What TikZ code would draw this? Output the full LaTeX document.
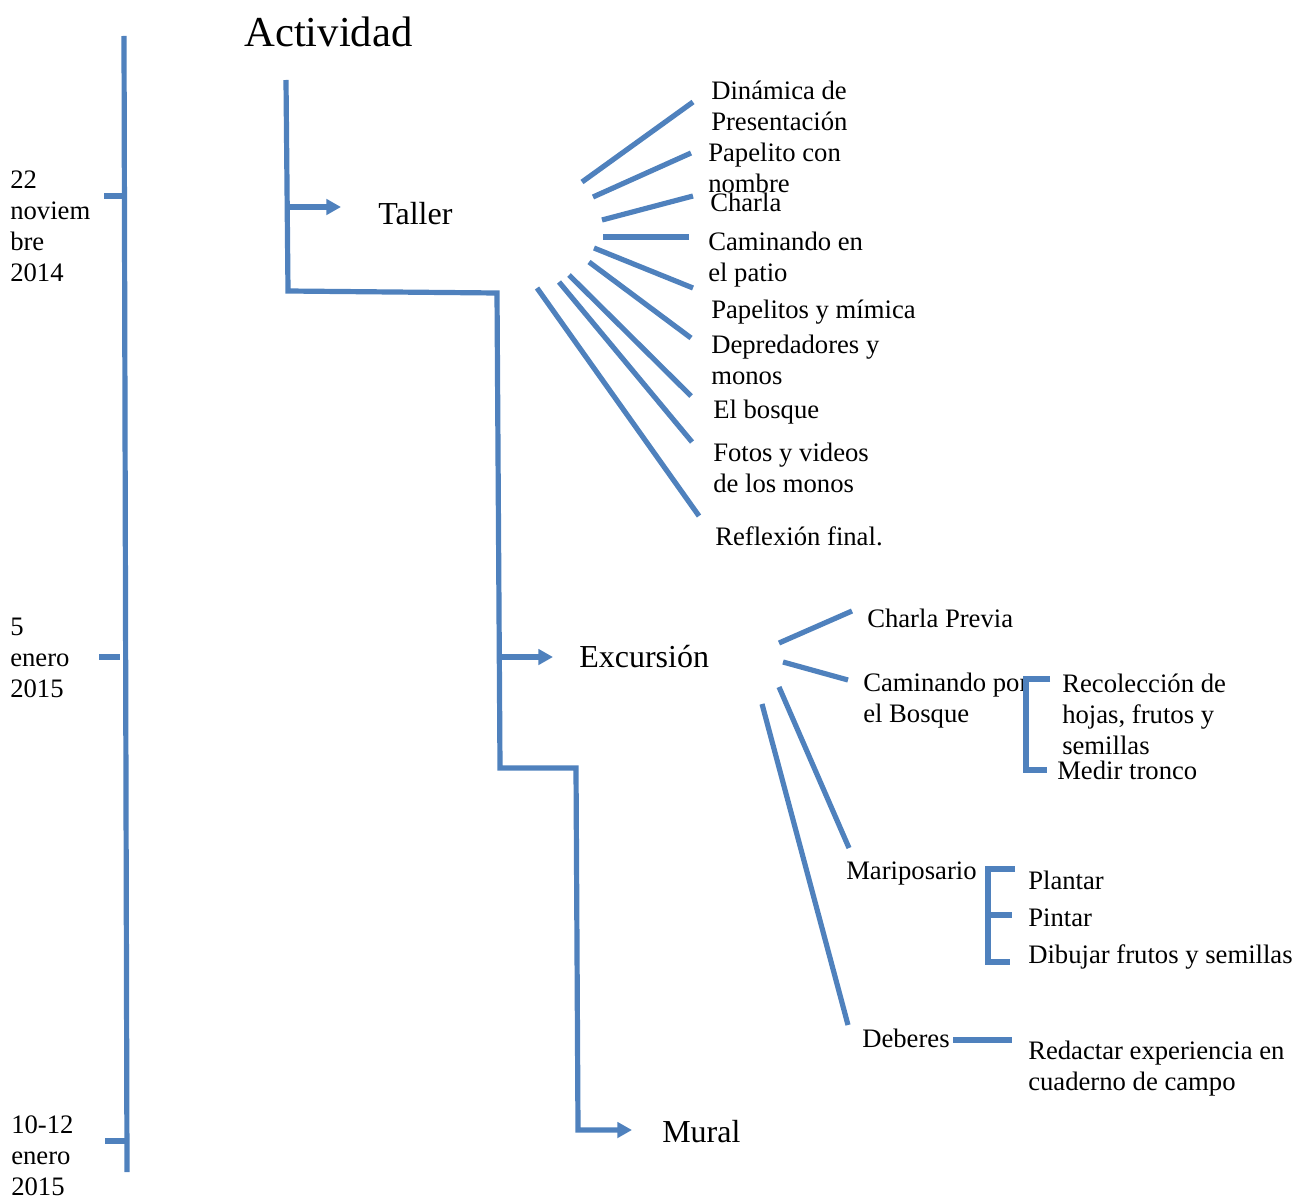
\documentclass[tikz,border=0pt]{standalone}
\usepackage{fontspec}
\setmainfont{Liberation Serif}
\usetikzlibrary{arrows.meta,positioning}
\definecolor{azul}{HTML}{4F81BD}
\tikzset{
  linea/.style={draw=azul,line width=3.9pt},
  flecha/.style={linea,-{Triangle[length=11pt,width=11.5pt]}},
  texto/.style={inner sep=0pt,anchor=base west,align=left,font=\fontsize{20}{23.25}\selectfont},
  grande/.style={inner sep=0pt,anchor=base west,font=\fontsize{24}{28}\selectfont},
  titulo/.style={inner sep=0pt,anchor=base west,font=\fontsize{32}{36}\selectfont}
}
\begin{document}
\begin{tikzpicture}[x=0.75pt,y=-0.75pt]
  \useasboundingbox (0,0) rectangle (1294,1198);
  % fechas (base = ultima linea)
  \node[texto] (fecha1) at (10,281) {22\\noviem\\bre\\2014};
  \node[texto] (fecha2) at (10,697) {5\\enero\\2015};
  \node[texto] (fecha3) at (11,1195) {10-12\\enero\\2015};
  % actividades
  \node[titulo] (actividad) at (244,47) {Actividad};
  \node[grande] (taller) at (378,224) {Taller};
  \node[grande] (excursion) at (579,667) {Excursión};
  \node[grande] (mural) at (662,1142) {Mural};
  % taller
  \node[texto] (t1) at (711,131) {Dinámica de\\Presentación};
  \node[texto] (t2) at (708,193) {Papelito con\\nombre};
  \node[texto] (t3) at (710,212) {Charla};
  \node[texto] (t4) at (708,281) {Caminando en\\el patio};
  \node[texto] (t5) at (711,318) {Papelitos y mímica};
  \node[texto] (t6) at (711,384) {Depredadores y\\monos};
  \node[texto] (t7) at (713,418) {El bosque};
  \node[texto] (t8) at (713,492) {Fotos y videos\\de los monos};
  \node[texto] (t9) at (715,545) {Reflexión final.};
  % excursion
  \node[texto] (e1) at (867,627) {Charla Previa};
  \node[texto] (e2) at (863,722) {Caminando por\\el Bosque};
  \node[texto] (e3) at (846,879) {Mariposario};
  \node[texto] (e4) at (862,1047) {Deberes};
  \node[texto] (c1) at (1062,754) {Recolección de\\hojas, frutos y\\semillas};
  \node[texto] (c2) at (1057,779) {Medir tronco};
  \node[texto] (m1) at (1028,889) {Plantar};
  \node[texto] (m2) at (1028,926) {Pintar};
  \node[texto] (m3) at (1028,963) {Dibujar frutos y semillas};
  \node[texto] (d1) at (1028,1090) {Redactar experiencia en\\cuaderno de campo};

  % linea de tiempo
  \coordinate (ejeA) at (124,36);
  \coordinate (ejeB) at (127,1172);
  \draw[linea] (ejeA) -- (ejeB);
  \foreach \k/\xk/\yk in {1/104/196, 2/99/657, 3/105/1141} {
    \coordinate (k\k) at (\xk,\yk);
    \draw[linea] (k\k) -- ++(21,0);
  }

  % llave de actividades
  \coordinate (a0) at (286,80);
  \coordinate (a1) at (288,291);
  \coordinate (a2) at (497,293);
  \coordinate (a3) at (500,768);
  \coordinate (a4) at (576,768);
  \coordinate (a5) at (578,1130);
  \coordinate (b1) at (287,207);
  \coordinate (b2) at (499,657);
  \draw[flecha,shorten >=22.5pt] (a0) -- (a1) -- (a2) -- (a3) -- (a4) -- (a5) -- (a5 -| mural.west);
  \draw[flecha,shorten >=27.75pt] (b1) -- (b1 -| taller.west);
  \draw[flecha,shorten >=19.5pt] (b2) -- (b2 -| excursion.west);

  % ramas del taller
  \foreach \i/\xa/\ya/\xb/\yb in {1/582/182/693/102, 2/593/197/691/153, 3/602/220/693/196,
      4/603/237/689/237, 5/594/248/693/288, 6/589/262/691/338, 7/569/275/691/396,
      8/559/282/692/442, 9/537/288/699/516} {
    \coordinate (ta\i) at (\xa,\ya);
    \coordinate (tb\i) at (\xb,\yb);
    \draw[linea] (ta\i) -- (tb\i);
  }

  % ramas de la excursion
  \foreach \i/\xa/\ya/\xb/\yb in {1/779/643/852/611, 2/783/662/848/680,
      3/779/687/849/848, 4/762/704/848/1025} {
    \coordinate (ea\i) at (\xa,\ya);
    \coordinate (eb\i) at (\xb,\yb);
    \draw[linea] (ea\i) -- (eb\i);
  }

  % llaves
  \coordinate (p1) at (1050,679);
  \coordinate (p2) at (1047,770);
  \draw[linea] (p1) -- (1026,679) -- (1026,770) -- (p2);
  \coordinate (q1) at (1015,869);
  \coordinate (q2) at (1012,915);
  \coordinate (q3) at (1010,962);
  \draw[linea] (q1) -- (988,869) -- (988,962) -- (q3);
  \draw[linea] (988,915) -- (q2);
  \coordinate (r1) at (953,1040);
  \coordinate (r2) at (1012,1040);
  \draw[linea] (r1) -- (r2);
\end{tikzpicture}
\end{document}
